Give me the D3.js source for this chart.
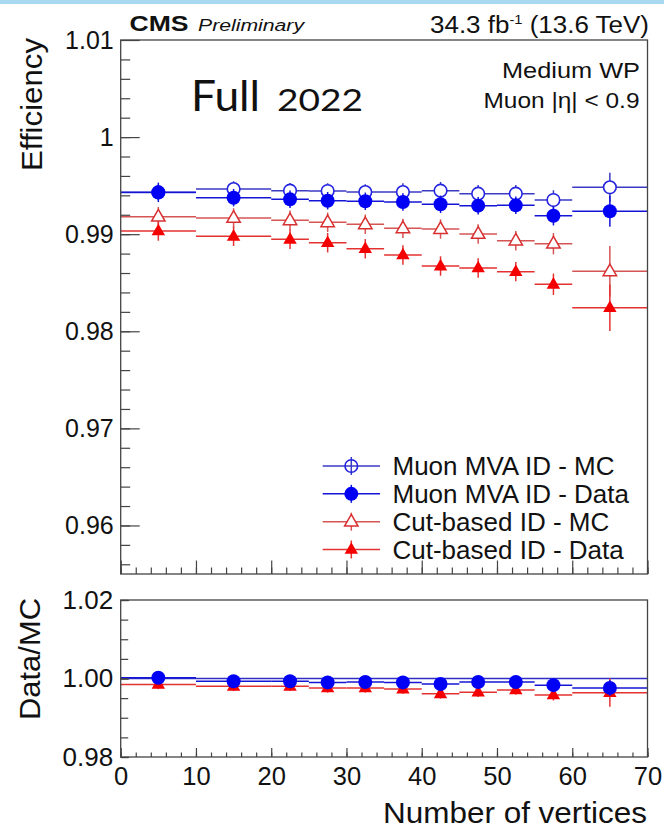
<!DOCTYPE html>
<html>
  <head>
    <meta http-equiv="Content-Type" content="text/html;charset=utf-8" />
    <title>Muon ID efficiency vs number of vertices</title>
    <style>
      body {
        margin: 0;
        background: #fff;
        font-family: "Liberation Sans", Arial, sans-serif;
      }
      .frame {
        fill: none;
        stroke: #444;
        stroke-width: 1.3px;
      }
      .tick line {
        stroke: #444;
        stroke-width: 1.2px;
      }
      .tick text {
        fill: #111;
        font-family: "Liberation Sans", Arial, sans-serif;
      }
    </style>
    <script src="https://d3js.org/d3.v7.min.js"></script>
  </head>
  <body>
    <div id="chart"></div>
    <script type="text/javascript">
      const width = 664,
        height = 835;

      // bins in number of vertices
      const binEdges = [0, 10, 20, 25, 30, 35, 40, 45, 50, 55, 60, 70];

      // efficiencies
      const mvaMC = [0.9943, 0.99465, 0.99448, 0.99445, 0.99434, 0.99434, 0.99448, 0.99417, 0.99417, 0.99352, 0.99483];
      const mvaMCErr = [0.0008, 0.0008, 0.0008, 0.0008, 0.0008, 0.0009, 0.0009, 0.0009, 0.0009, 0.001, 0.0015];
      const mvaData = [0.99431, 0.99376, 0.99359, 0.99345, 0.99339, 0.99332, 0.99308, 0.99294, 0.99297, 0.9919, 0.99236];
      const mvaDataErr = [0.001, 0.0009, 0.0009, 0.0009, 0.0009, 0.0009, 0.0009, 0.0009, 0.0009, 0.001, 0.0016];
      const cutMC = [0.9918, 0.99167, 0.99143, 0.99122, 0.99102, 0.9906, 0.99053, 0.99002, 0.98933, 0.98902, 0.98618];
      const cutMCErr = [0.001, 0.001, 0.001, 0.001, 0.001, 0.001, 0.001, 0.001, 0.001, 0.0011, 0.0026];
      const cutData = [0.99033, 0.98978, 0.98947, 0.98912, 0.9885, 0.98786, 0.98672, 0.98652, 0.98614, 0.98484, 0.98243];
      const cutDataErr = [0.001, 0.001, 0.001, 0.001, 0.001, 0.001, 0.001, 0.001, 0.001, 0.0011, 0.0024];

      // data/MC ratios
      const ratioMVA = [1.0002, 0.9993, 0.9993, 0.999, 0.9991, 0.999, 0.9986, 0.9991, 0.9991, 0.9983, 0.9976];
      const ratioMVAErr = [0.0012, 0.0012, 0.0012, 0.0012, 0.0012, 0.0012, 0.0012, 0.0012, 0.0012, 0.0013, 0.002];
      const ratioCut = [0.9985, 0.998, 0.998, 0.9976, 0.9976, 0.9973, 0.9961, 0.9965, 0.9971, 0.9958, 0.9964];
      const ratioCutErr = [0.0012, 0.0012, 0.0012, 0.0012, 0.0012, 0.0012, 0.0012, 0.0012, 0.0012, 0.0014, 0.0036];

      // axis ticks
      const xTicks = [0, 10, 20, 30, 40, 50, 60, 70];
      const xTickLabels = ["0", "10", "20", "30", "40", "50", "60", "70"];
      const yTopTicks = [0.96, 0.97, 0.98, 0.99, 1, 1.01];
      const yTopTickLabels = ["0.96", "0.97", "0.98", "0.99", "1", "1.01"];
      const yBotTicks = [0.98, 1.0, 1.02];
      const yBotTickLabels = ["0.98", "1.00", "1.02"];

      const legendLabels = [
        "Muon MVA ID - MC",
        "Muon MVA ID - Data",
        "Cut-based ID - MC",
        "Cut-based ID - Data",
      ];

      // series styles: line colour, marker colour, marker type, open?
      const styles = [
        { line: "#3a3ac4", mark: "#2323e0", type: "circle", open: true },
        { line: "#1414d6", mark: "#0000f5", type: "circle", open: false },
        { line: "#d65454", mark: "#d83030", type: "triangle", open: true },
        { line: "#e43232", mark: "#f50000", type: "triangle", open: false },
      ];

      const x = d3.scaleLinear().domain([0, 70]).range([120.7, 647.5]);
      const yTop = d3.scaleLinear().domain([0.955, 1.01]).range([574, 40]);
      const yBot = d3.scaleLinear().domain([0.98, 1.02]).range([757, 600]);

      const svg = d3
        .select("#chart")
        .append("svg")
        .attr("width", width)
        .attr("height", height);

      // pale blue brush stroke at the top of the slide
      svg
        .append("rect")
        .attr("x", 0)
        .attr("y", 0)
        .attr("width", width)
        .attr("height", 4)
        .style("fill", "#a9d9f1");

      function makeBins(vals, errs) {
        return vals.map(function (v, i) {
          return {
            lo: binEdges[i],
            hi: binEdges[i + 1],
            c: (binEdges[i] + binEdges[i + 1]) / 2,
            v: v,
            e: errs[i],
          };
        });
      }

      const markerPath = d3.symbol().type(d3.symbolTriangle).size(78);

      function drawMarker(g, st, px, py, fillOpen) {
        if (st.type === "circle") {
          g.append("circle")
            .attr("cx", px)
            .attr("cy", py)
            .attr("r", st.open ? 6.3 : 7)
            .style("fill", st.open ? fillOpen : st.mark)
            .style("stroke", st.mark)
            .style("stroke-width", st.open ? 1.6 : 0);
        } else {
          g.append("path")
            .attr("d", markerPath())
            .attr("transform", "translate(" + px + "," + (py + 0.5) + ")")
            .style("fill", st.open ? fillOpen : st.mark)
            .style("stroke", st.mark)
            .style("stroke-width", st.open ? 1.5 : 0);
        }
      }

      function drawSeries(vals, errs, st, y) {
        const g = svg.append("g");
        const bins = makeBins(vals, errs);
        g.selectAll("line.h")
          .data(bins)
          .enter()
          .append("line")
          .attr("x1", function (d) { return x(d.lo); })
          .attr("x2", function (d) { return x(d.hi); })
          .attr("y1", function (d) { return y(d.v); })
          .attr("y2", function (d) { return y(d.v); })
          .style("stroke", st.line)
          .style("stroke-width", 1.5);
        g.selectAll("line.v")
          .data(bins)
          .enter()
          .append("line")
          .attr("x1", function (d) { return x(d.c); })
          .attr("x2", function (d) { return x(d.c); })
          .attr("y1", function (d) { return y(d.v - d.e); })
          .attr("y2", function (d) { return y(d.v + d.e); })
          .style("stroke", st.line)
          .style("stroke-width", 1.5);
        bins.forEach(function (d) {
          drawMarker(g, st, x(d.c), y(d.v), "#fff");
        });
      }

      //-- top panel
      drawSeries(cutMC, cutMCErr, styles[2], yTop);
      drawSeries(cutData, cutDataErr, styles[3], yTop);
      drawSeries(mvaMC, mvaMCErr, styles[0], yTop);
      drawSeries(mvaData, mvaDataErr, styles[1], yTop);

      //-- ratio panel
      svg
        .append("line")
        .attr("x1", x(0))
        .attr("x2", x(70))
        .attr("y1", yBot(1))
        .attr("y2", yBot(1))
        .style("stroke", "#2f2fc8")
        .style("stroke-width", 1.4);
      drawSeries(ratioCut, ratioCutErr, styles[3], yBot);
      drawSeries(ratioMVA, ratioMVAErr, styles[1], yBot);

      //- axes (ticks point inwards)
      function styleAxis(g, size) {
        g.select(".domain").remove();
        g.attr("font-size", null).attr("font-family", null);
        g.selectAll("text").style("font-size", size + "px");
      }

      // top panel y
      svg
        .append("g")
        .attr("transform", "translate(" + x(0) + ",0)")
        .call(d3.axisLeft(yTop).tickValues(d3.range(0.956, 1.0095, 0.002)).tickSize(-9.5).tickFormat(""))
        .call(function (g) { styleAxis(g, 24); });
      svg
        .append("g")
        .attr("transform", "translate(" + x(0) + ",0)")
        .call(
          d3.axisLeft(yTop)
            .tickValues(yTopTicks)
            .tickSize(-19)
            .tickPadding(7)
            .tickFormat(function (d, i) { return yTopTickLabels[i]; })
        )
        .call(function (g) { styleAxis(g, 25); });

      // top panel x (no labels)
      svg
        .append("g")
        .attr("transform", "translate(0," + yTop(0.955) + ")")
        .call(d3.axisBottom(x).tickValues(d3.range(0, 70.1, 2)).tickSize(-6.5).tickFormat(""))
        .call(function (g) { styleAxis(g, 24); });
      svg
        .append("g")
        .attr("transform", "translate(0," + yTop(0.955) + ")")
        .call(d3.axisBottom(x).tickValues(xTicks).tickSize(-13.5).tickFormat(""))
        .call(function (g) { styleAxis(g, 24); });

      // ratio panel y
      svg
        .append("g")
        .attr("transform", "translate(" + x(0) + ",0)")
        .call(d3.axisLeft(yBot).tickValues(d3.range(0.98, 1.0201, 0.005)).tickSize(-7.5).tickFormat(""))
        .call(function (g) { styleAxis(g, 24); });
      svg
        .append("g")
        .attr("transform", "translate(" + x(0) + ",0)")
        .call(
          d3.axisLeft(yBot)
            .tickValues(yBotTicks)
            .tickSize(-8.5)
            .tickPadding(7.5)
            .tickFormat(function (d, i) { return yBotTickLabels[i]; })
        )
        .call(function (g) { styleAxis(g, 26); });

      // ratio panel x
      svg
        .append("g")
        .attr("transform", "translate(0," + yBot(0.98) + ")")
        .call(d3.axisBottom(x).tickValues(d3.range(0, 70.1, 2)).tickSize(-4.5).tickFormat(""))
        .call(function (g) { styleAxis(g, 24); });
      svg
        .append("g")
        .attr("transform", "translate(0," + yBot(0.98) + ")")
        .call(
          d3.axisBottom(x)
            .tickValues(xTicks)
            .tickSize(-9)
            .tickPadding(10)
            .tickFormat(function (d, i) { return xTickLabels[i]; })
        )
        .call(function (g) { styleAxis(g, 25.5); });

      // frames
      svg
        .append("rect")
        .attr("class", "frame")
        .attr("x", x(0))
        .attr("y", yTop(1.01))
        .attr("width", x(70) - x(0))
        .attr("height", yTop(0.955) - yTop(1.01));
      svg
        .append("rect")
        .attr("class", "frame")
        .attr("x", x(0))
        .attr("y", yBot(1.02))
        .attr("width", x(70) - x(0))
        .attr("height", yBot(0.98) - yBot(1.02));

      //- axis titles
      svg
        .append("text")
        .attr("transform", "translate(41.5,38) rotate(-90)")
        .attr("textLength", 133)
        .attr("lengthAdjust", "spacingAndGlyphs")
        .style("text-anchor", "end")
        .style("font-size", "30px")
        .style("fill", "#111")
        .text("Efficiency");
      svg
        .append("text")
        .attr("transform", "translate(39.5,598) rotate(-90)")
        .attr("textLength", 122)
        .attr("lengthAdjust", "spacingAndGlyphs")
        .style("text-anchor", "end")
        .style("font-size", "30px")
        .style("fill", "#111")
        .text("Data/MC");
      svg
        .append("text")
        .attr("x", 383)
        .attr("y", 823)
        .attr("textLength", 264)
        .attr("lengthAdjust", "spacingAndGlyphs")
        .style("font-size", "30px")
        .style("fill", "#111")
        .text("Number of vertices");

      //- header
      svg
        .append("text")
        .attr("x", 129.5)
        .attr("y", 30.5)
        .attr("textLength", 59)
        .attr("lengthAdjust", "spacingAndGlyphs")
        .style("font-size", "22px")
        .style("font-weight", "bold")
        .style("fill", "#111")
        .text("CMS");
      svg
        .append("text")
        .attr("x", 198)
        .attr("y", 30.5)
        .attr("textLength", 106)
        .attr("lengthAdjust", "spacingAndGlyphs")
        .style("font-size", "16px")
        .style("font-style", "italic")
        .style("fill", "#111")
        .text("Preliminary");

      const lumi = svg
        .append("text")
        .attr("x", 430)
        .attr("y", 33)
        .attr("textLength", 219)
        .attr("lengthAdjust", "spacingAndGlyphs")
        .style("font-size", "23px")
        .style("fill", "#111");
      lumi.append("tspan").text("34.3 fb");
      lumi.append("tspan").attr("dy", -9).style("font-size", "13px").text("-1");
      lumi.append("tspan").attr("dy", 9).text(" (13.6 TeV)");

      svg
        .append("text")
        .attr("x", 502)
        .attr("y", 77.5)
        .attr("textLength", 138)
        .attr("lengthAdjust", "spacingAndGlyphs")
        .style("font-size", "22px")
        .style("fill", "#111")
        .text("Medium WP");
      svg
        .append("text")
        .attr("x", 483.5)
        .attr("y", 107.5)
        .attr("textLength", 156)
        .attr("lengthAdjust", "spacingAndGlyphs")
        .style("font-size", "22px")
        .style("fill", "#111")
        .text("Muon |η| < 0.9");

      svg
        .append("text")
        .attr("x", 191)
        .attr("y", 111)
        .attr("textLength", 69)
        .attr("lengthAdjust", "spacingAndGlyphs")
        .style("font-family", "Lato, 'Open Sans', sans-serif")
        .style("font-size", "43px")
        .style("fill", "#111")
        .text("Full");
      svg
        .append("text")
        .attr("x", 277)
        .attr("y", 111)
        .attr("textLength", 86)
        .attr("lengthAdjust", "spacingAndGlyphs")
        .style("font-family", "Lato, 'Open Sans', sans-serif")
        .style("font-size", "30px")
        .style("fill", "#111")
        .text("2022");

      //- legend
      const legendY = d3.scalePoint().domain(legendLabels).range([466, 549.5]);
      const legend = svg.append("g");
      legendLabels.forEach(function (lab, i) {
        const st = styles[i];
        const ly = legendY(lab);
        legend
          .append("line")
          .attr("x1", 322.7)
          .attr("x2", 380)
          .attr("y1", ly)
          .attr("y2", ly)
          .style("stroke", st.line)
          .style("stroke-width", 1.5);
        legend
          .append("line")
          .attr("x1", 351.3)
          .attr("x2", 351.3)
          .attr("y1", ly - 9)
          .attr("y2", ly + 9)
          .style("stroke", st.line)
          .style("stroke-width", 1.5);
        drawMarker(legend, st, 351.3, ly, st.type === "circle" ? "none" : "#fff");
        legend
          .append("text")
          .attr("x", 392.5)
          .attr("y", ly + 9)
          .style("font-size", "26px")
          .style("fill", "#111")
          .text(lab);
      });
    </script>
  </body>
</html>
